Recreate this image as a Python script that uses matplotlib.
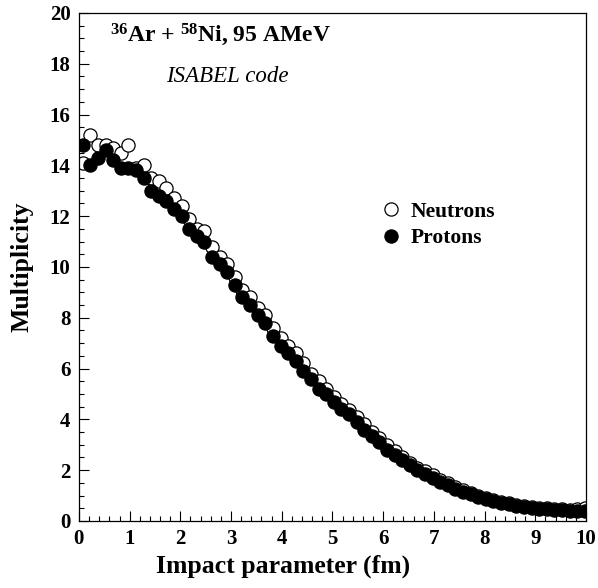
import numpy as np
import matplotlib
matplotlib.use("Agg")
import matplotlib.pyplot as plt
from matplotlib.ticker import MultipleLocator

# impact parameter (fm)
b = [0.075 + 0.15 * k for k in range(67)]

neutrons = [14.1, 15.2, 14.8, 14.8, 14.7, 14.5, 14.8, 13.9, 14.0, 13.5,
            13.4, 13.1, 12.7, 12.4, 11.9, 11.5, 11.4, 10.8, 10.4, 10.1,
            9.6, 9.1, 8.8, 8.4, 8.1, 7.6, 7.2, 6.9, 6.6, 6.2,
            5.8, 5.5, 5.2, 4.9, 4.6, 4.35, 4.1, 3.8, 3.5, 3.25,
            3.0, 2.75, 2.5, 2.3, 2.1, 1.95, 1.8, 1.62, 1.48, 1.33,
            1.22, 1.1, 1.0, 0.9, 0.83, 0.76, 0.7, 0.64, 0.6, 0.56,
            0.52, 0.5, 0.48, 0.46, 0.45, 0.46, 0.5]

protons = [14.8, 14.0, 14.3, 14.6, 14.2, 13.9, 13.9, 13.8, 13.5, 13.0,
           12.8, 12.6, 12.3, 12.0, 11.5, 11.2, 11.0, 10.4, 10.1, 9.8,
           9.3, 8.8, 8.5, 8.1, 7.8, 7.3, 6.9, 6.6, 6.3, 5.9,
           5.6, 5.2, 5.0, 4.7, 4.4, 4.2, 3.9, 3.6, 3.35, 3.1,
           2.8, 2.6, 2.4, 2.2, 2.0, 1.85, 1.7, 1.55, 1.4, 1.25,
           1.15, 1.05, 0.95, 0.85, 0.78, 0.72, 0.66, 0.6, 0.56, 0.52,
           0.48, 0.46, 0.44, 0.42, 0.40, 0.40, 0.41]

series_labels = ["Neutrons", "Protons"]

plt.rcParams['font.family'] = ['Liberation Serif', 'DejaVu Serif']
plt.rcParams['mathtext.fontset'] = 'custom'
plt.rcParams['mathtext.rm'] = 'Liberation Serif'
plt.rcParams['mathtext.bf'] = 'Liberation Serif:bold'
plt.rcParams['mathtext.it'] = 'Liberation Serif:italic'

fig = plt.figure(figsize=(5.98, 5.88), dpi=100)
ax = fig.add_axes([0.132, 0.114, 0.848, 0.864])

ms = 9.5
ax.plot(b, neutrons, linestyle='none', marker='o', markersize=ms,
        markerfacecolor='white', markeredgecolor='black', markeredgewidth=0.9,
        label=series_labels[0])
ax.plot(b, protons, linestyle='none', marker='o', markersize=ms,
        markerfacecolor='black', markeredgecolor='black', markeredgewidth=0.9,
        label=series_labels[1])

ax.set_xlim(0, 10)
ax.set_ylim(0, 20)
ax.xaxis.set_major_locator(MultipleLocator(1))
ax.xaxis.set_minor_locator(MultipleLocator(0.2))
ax.yaxis.set_major_locator(MultipleLocator(2))
ax.yaxis.set_minor_locator(MultipleLocator(0.5))
ax.tick_params(which='both', direction='in', top=False, right=False)
ax.tick_params(which='major', length=7.5, width=0.8, labelsize=15, pad=6)
ax.tick_params(which='minor', length=3.8, width=0.8)
for lab in ax.get_xticklabels() + ax.get_yticklabels():
    lab.set_fontweight('bold')
for s in ax.spines.values():
    s.set_linewidth(0.9)

ax.set_xlabel("Impact parameter (fm)", fontsize=18.5, fontweight='bold')
ax.xaxis.set_label_coords(0.403, -0.067, transform=ax.transAxes)
ax.set_ylabel("Multiplicity", fontsize=18.5, fontweight='bold', labelpad=12)

ax.text(0.61, 18.86, r"$^{\mathbf{36}}$Ar + $^{\mathbf{58}}$Ni, 95 AMeV",
        fontsize=17, fontweight='bold', ha='left', va='baseline')
ax.text(1.72, 17.3, "ISABEL code", fontsize=16.5, style='italic',
        ha='left', va='baseline')

leg = ax.legend(loc='center left', bbox_to_anchor=(0.573, 0.583), frameon=False,
                prop={'weight': 'bold', 'size': 15.5}, handletextpad=0.4,
                labelspacing=0.3, borderpad=0, handlelength=1.0)

fig.savefig("out.png", dpi=100)
